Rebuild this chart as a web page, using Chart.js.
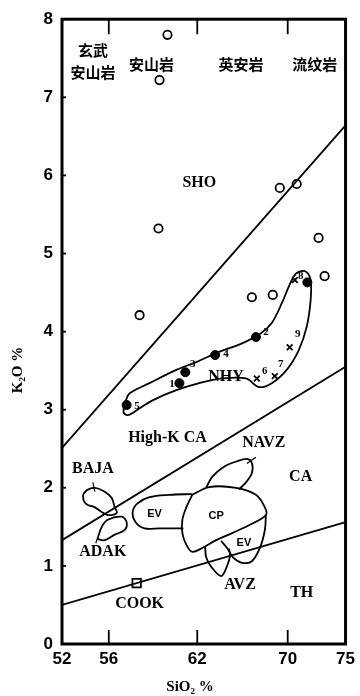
<!DOCTYPE html>
<html>
<head>
<meta charset="utf-8">
<script src="https://cdn.jsdelivr.net/npm/chart.js@4.4.1/dist/chart.umd.min.js"></script>
<style>
  html, body { margin: 0; padding: 0; background: #fff; }
  #wrap { width: 360px; height: 696px; }
</style>
</head>
<body>
<div id="wrap"><canvas id="k2oChart" width="360" height="696"></canvas></div>
<script>
'use strict';

// --- values: [SiO2 %, K2O %] ---
var xTicks = [52, 56, 62, 70, 75];
var yTicks = [0, 1, 2, 3, 4, 5, 6, 7, 8];

var lineSho = [[52, 2.51], [75, 6.64]];
var lineHighK = [[52, 1.33], [75, 3.55]];
var lineTh = [[52, 0.50], [75, 1.56]];

var openSamples = [
  [59.98, 7.80], [59.44, 7.22], [59.37, 5.32], [58.09, 4.21], [66.83, 4.44],
  [68.68, 4.47], [69.30, 5.84], [70.78, 5.89], [72.67, 5.20], [73.19, 4.71]
];
var nhyDots = [[60.79, 3.34], [61.19, 3.48], [63.58, 3.70], [67.19, 3.93], [57.21, 3.06], [71.70, 4.63]];
var nhyCrosses = [[67.27, 3.40], [68.86, 3.43], [70.17, 3.80], [70.62, 4.66]];
var cookSample = [[57.89, 0.78]];

// sample numbers next to the NHY points
var sampleNums = [
  ['1', 60.28, 3.33], ['3', 61.70, 3.58], ['4', 64.55, 3.71], ['2', 68.07, 3.99],
  ['5', 57.92, 3.04], ['6', 67.98, 3.49], ['7', 69.38, 3.58], ['9', 70.86, 3.97], ['8', 71.12, 4.71]
];

// field outlines
var nhyField = [
  [57.11, 3.10], [57.42, 3.21], [58.76, 3.34], [60.58, 3.51], [61.93, 3.61], [63.93, 3.74],
  [65.96, 3.85], [67.63, 3.98], [68.59, 4.11], [69.47, 4.36], [70.26, 4.63], [70.78, 4.75],
  [71.55, 4.77], [71.98, 4.66], [71.98, 4.40], [71.64, 4.06], [70.95, 3.76], [69.91, 3.51],
  [68.59, 3.34], [67.45, 3.29], [66.31, 3.40], [64.20, 3.40], [62.18, 3.34], [60.58, 3.25],
  [58.97, 3.12], [57.95, 3.00], [57.28, 2.93], [57.00, 2.97]
];
var bajaField = [
  [53.79, 1.91], [54.13, 1.97], [54.81, 2.00], [55.66, 1.95], [56.20, 1.87], [56.40, 1.75],
  [56.54, 1.68], [55.91, 1.65], [55.40, 1.69], [54.81, 1.75], [54.21, 1.78], [53.87, 1.83]
];
var adakField = [
  [55.06, 1.36], [55.40, 1.50], [55.91, 1.59], [56.88, 1.63], [57.21, 1.56],
  [57.08, 1.46], [56.40, 1.40], [55.66, 1.33], [55.15, 1.34]
];
var cpField = [
  [61.66, 1.91], [63.05, 2.01], [65.43, 2.00], [67.19, 1.91], [67.98, 1.75], [68.07, 1.65],
  [66.57, 1.52], [65.08, 1.42], [63.67, 1.33], [62.44, 1.23], [61.66, 1.18], [61.26, 1.27],
  [60.99, 1.42], [60.99, 1.59], [61.26, 1.75]
];
var evLeft = [
  [61.66, 1.92], [60.11, 1.91], [58.76, 1.88], [57.95, 1.80], [57.62, 1.69],
  [57.82, 1.56], [58.43, 1.48], [59.44, 1.48], [61.06, 1.48]
];
var evRight = [
  [68.07, 1.65], [67.98, 1.46], [67.54, 1.23], [66.83, 1.06], [65.96, 1.04],
  [65.16, 1.11], [64.64, 1.23], [64.11, 1.32]
];
var avzField = [
  [62.70, 1.24], [62.79, 1.11], [63.23, 0.99], [64.11, 0.87], [64.64, 1.00], [64.90, 1.13], [64.81, 1.22]
];
var navzField = [
  [62.79, 2.00], [63.32, 2.14], [64.37, 2.27], [65.52, 2.34], [66.39, 2.37],
  [66.83, 2.32], [66.83, 2.19], [66.31, 2.07], [65.69, 1.98]
];
var leaders = [
  [[54.64, 2.07], [54.81, 1.95]],   // BAJA
  [[55.06, 1.37], [54.89, 1.29]],   // ADAK
  [[66.39, 2.31], [67.19, 2.39]]    // NAVZ
];

var fieldNames = [
  ['SHO', 62.18, 5.90], ['High-K CA', 59.98, 2.64], ['NHY', 64.55, 3.42], ['CA', 71.12, 2.14],
  ['TH', 71.21, 0.65], ['COOK', 58.09, 0.52], ['AVZ', 65.78, 0.76], ['NAVZ', 67.89, 2.57],
  ['BAJA', 54.64, 2.24], ['ADAK', 55.49, 1.18]
];
var smallNames = [['EV', 59.10, 1.66], ['CP', 63.67, 1.64], ['EV', 66.13, 1.29]];
var rockNames = [
  ['玄武', 54.64, 7.60], ['安山岩', 54.64, 7.32], ['安山岩', 58.90, 7.42],
  ['英安岩', 65.87, 7.42], ['流纹岩', 72.33, 7.42]
];

// the SiO2 axis of the figure is not evenly spaced between its ticks
var xTickPos = [0, 0.165, 0.477, 0.796, 1];

function siToDecimal(v) {
  var i = 1;
  while (i < xTicks.length - 1 && v > xTicks[i]) i++;
  var t = (v - xTicks[i - 1]) / (xTicks[i] - xTicks[i - 1]);
  return xTickPos[i - 1] + t * (xTickPos[i] - xTickPos[i - 1]);
}
function decimalToSi(d) {
  var i = 1;
  while (i < xTickPos.length - 1 && d > xTickPos[i]) i++;
  var t = (d - xTickPos[i - 1]) / (xTickPos[i] - xTickPos[i - 1]);
  return xTicks[i - 1] + t * (xTicks[i] - xTicks[i - 1]);
}

class SegmentedScale extends Chart.LinearScale {
  getPixelForValue(value) {
    return value === null ? NaN : this.getPixelForDecimal(siToDecimal(value));
  }
  getValueForPixel(pixel) {
    return decimalToSi(this.getDecimalForPixel(pixel));
  }
}
SegmentedScale.id = 'segmented';
Chart.register(SegmentedScale);

function pts(arr) {
  return arr.map(function (p) { return { x: p[0], y: p[1] }; });
}
function curve(arr, closed) {
  return {
    data: pts(closed ? arr.concat([arr[0]]) : arr),
    showLine: true,
    borderColor: '#000',
    borderWidth: 1.8,
    pointRadius: 0,
    tension: 0.35,
    fill: false
  };
}
function straight(arr) {
  var ds = curve(arr, false);
  ds.tension = 0;
  return ds;
}

var datasets = [
  straight(lineSho), straight(lineHighK), straight(lineTh),
  curve(nhyField, true), curve(bajaField, true), curve(adakField, true), curve(cpField, true),
  curve(evLeft, false), curve(evRight, false), curve(avzField, false), curve(navzField, false)
];
leaders.forEach(function (l) {
  var ds = straight(l);
  ds.borderWidth = 1.2;
  datasets.push(ds);
});
datasets.push({
  data: pts(openSamples), pointStyle: 'circle', pointRadius: 4.2,
  backgroundColor: '#fff', borderColor: '#000', borderWidth: 1.8
});
datasets.push({
  data: pts(nhyDots), pointStyle: 'circle', pointRadius: 4.5,
  backgroundColor: '#000', borderColor: '#000', borderWidth: 1
});
datasets.push({
  data: pts(nhyCrosses), pointStyle: 'crossRot', pointRadius: 4,
  borderColor: '#000', borderWidth: 1.8
});
datasets.push({
  data: pts(cookSample), pointStyle: 'rect', pointRadius: 6,
  backgroundColor: '#fff', borderColor: '#000', borderWidth: 1.8
});

var decorPlugin = {
  id: 'decor',
  afterDatasetsDraw: function (chart) {
    var ctx = chart.ctx;
    var a = chart.chartArea;
    var xs = chart.scales.x;
    var ys = chart.scales.y;

    function seg(x1, y1, x2, y2) {
      ctx.beginPath();
      ctx.moveTo(x1, y1);
      ctx.lineTo(x2, y2);
      ctx.stroke();
    }
    function write(list, font) {
      ctx.font = font;
      list.forEach(function (t) {
        ctx.fillText(t[0], xs.getPixelForValue(t[1]), ys.getPixelForValue(t[2]));
      });
    }

    ctx.save();
    ctx.strokeStyle = '#000';
    ctx.fillStyle = '#000';
    ctx.lineWidth = 3;
    ctx.strokeRect(a.left, a.top, a.right - a.left, a.bottom - a.top);

    // inner tick marks
    ctx.lineWidth = 1.8;
    xTicks.slice(1, -1).forEach(function (v) {
      var px = xs.getPixelForValue(v);
      seg(px, a.top, px, a.top + 15);
      seg(px, a.bottom, px, a.bottom - 14);
    });
    yTicks.forEach(function (v) {
      var py = ys.getPixelForValue(v);
      seg(a.left, py, a.left + 4, py);
    });

    ctx.textAlign = 'center';
    ctx.textBaseline = 'middle';
    write(fieldNames, 'bold 16px "Liberation Serif", serif');
    write(smallNames, 'bold 11px "Liberation Sans", sans-serif');
    write(sampleNums, 'bold 11px "Liberation Serif", serif');
    write(rockNames, 'bold 15px "Noto Sans CJK SC", sans-serif');

    // axis titles
    ctx.font = 'bold 15px "Liberation Serif", serif';
    ctx.fillText('SiO\u2082 %', 190, 687);
    ctx.translate(18, 370);
    ctx.rotate(-Math.PI / 2);
    ctx.fillText('K\u2082O %', 0, 0);
    ctx.restore();
  }
};

var tickFont = { family: '"Liberation Sans Narrow", "Liberation Sans", sans-serif', size: 17, weight: 'bold' };

new Chart(document.getElementById('k2oChart').getContext('2d'), {
  type: 'scatter',
  data: { datasets: datasets },
  options: {
    responsive: false,
    animation: false,
    events: [],
    layout: { padding: { top: 18, right: 13, left: 0, bottom: 0 } },
    plugins: { legend: { display: false }, tooltip: { enabled: false } },
    scales: {
      x: {
        type: 'segmented',
        min: 52,
        max: 75,
        grid: { display: false, drawTicks: false },
        border: { display: false },
        ticks: { color: '#000', font: tickFont, padding: 5, autoSkip: false, maxRotation: 0 },
        afterBuildTicks: function (s) { s.ticks = xTicks.map(function (v) { return { value: v }; }); },
        afterFit: function (s) { s.height = 52; }
      },
      y: {
        min: 0,
        max: 8,
        grid: { display: false, drawTicks: false },
        border: { display: false },
        ticks: { color: '#000', font: tickFont, padding: 9, stepSize: 1 },
        afterBuildTicks: function (s) { s.ticks = yTicks.map(function (v) { return { value: v }; }); },
        afterFit: function (s) { s.width = 62; }
      }
    }
  },
  plugins: [decorPlugin]
});
</script>
</body>
</html>
